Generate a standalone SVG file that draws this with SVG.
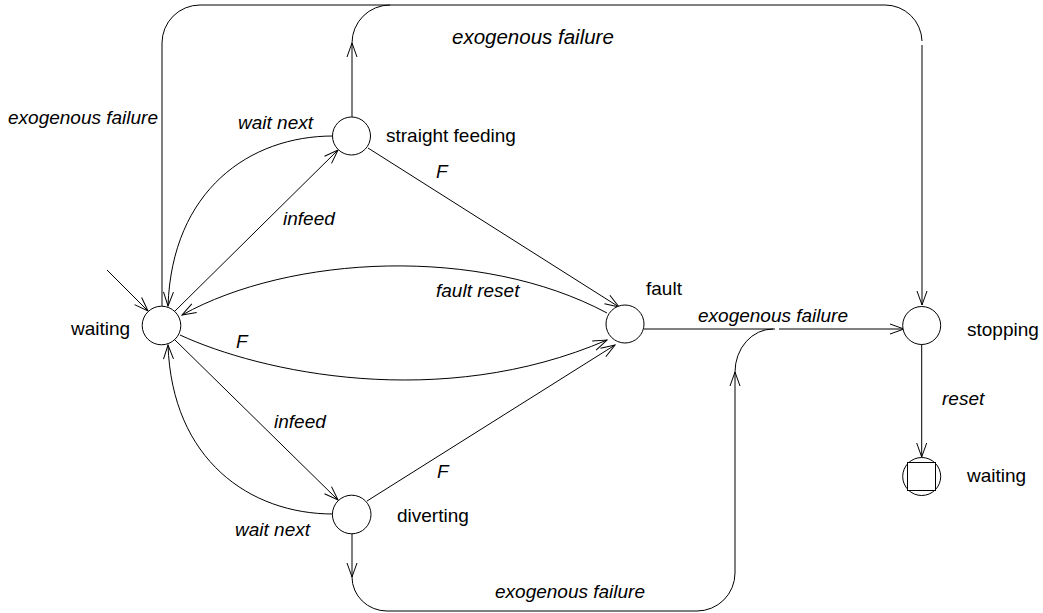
<svg xmlns="http://www.w3.org/2000/svg" width="1043" height="613" viewBox="0 0 1043 613">
<defs>
<style>
.n{fill:#fff;stroke:#000;stroke-width:1}
.c{fill:none;stroke:#000;stroke-width:1}
.t{font-family:"Liberation Sans",Arial,sans-serif;font-size:19px;fill:#000}
.i{font-style:italic}
</style>
<marker id="a" markerUnits="userSpaceOnUse" markerWidth="16" markerHeight="12" viewBox="0 0 16 12" refX="15" refY="6" orient="auto">
<path d="M1,1 L15,6 L1,11" fill="none" stroke="#000" stroke-width="1"/>
</marker>
</defs>
<rect width="1043" height="613" fill="#fff"/>
<g id="connectors">
<path class="c" d="M107,270 L148,311" marker-end="url(#a)"/>
<path class="c" d="M174,312 L338,150" marker-end="url(#a)"/>
<path class="c" d="M333,136 C250,136 172,190 168,306" marker-end="url(#a)"/>
<path class="c" d="M174,339 L338,500" marker-end="url(#a)"/>
<path class="c" d="M333,514 C250,514 172,460 168,345" marker-end="url(#a)"/>
<path class="c" d="M368,148 L619,307" marker-end="url(#a)"/>
<path class="c" d="M367,501 L615,345" marker-end="url(#a)"/>
<path class="c" d="M180,335 C260,372 440,412 607,340" marker-end="url(#a)"/>
<path class="c" d="M607,313 C480,245 290,255 182,315" marker-end="url(#a)"/>
<path class="c" d="M644,329 H775"/>
<path class="c" d="M779,329 H904" marker-end="url(#a)"/>
<path class="c" d="M921.7,344 V457" marker-end="url(#a)"/>
<path class="c" d="M162,306 V43 A38,38 0 0 1 200,5 H885 A37,37 0 0 1 922,41"/>
<path class="c" d="M922,45 V305" marker-end="url(#a)"/>
<path class="c" d="M352,117 V43" marker-end="url(#a)"/>
<path class="c" d="M352,43 A38,38 0 0 1 390,5"/>
<path class="c" d="M352,533 V577" marker-end="url(#a)"/>
<path class="c" d="M352,577 A35,34 0 0 0 387,611 H697 A38,38 0 0 0 735,573 V372" marker-end="url(#a)"/>
<path class="c" d="M735,372 A38,43 0 0 1 773,329"/>
</g>
<g id="waiting">
<circle class="n" cx="161.5" cy="325.5" r="19.3"/>
<text class="t" x="71" y="335">waiting</text>
</g>
<g id="straight_feeding">
<circle class="n" cx="351.5" cy="136" r="19"/>
<text class="t" x="386" y="142">straight feeding</text>
</g>
<g id="fault">
<circle class="n" cx="625" cy="324" r="19"/>
<text class="t" x="646" y="295">fault</text>
</g>
<g id="diverting">
<circle class="n" cx="351.7" cy="514.5" r="19.3"/>
<text class="t" x="397" y="522">diverting</text>
</g>
<g id="stopping">
<circle class="n" cx="921.7" cy="325.5" r="19"/>
<text class="t" x="967" y="336">stopping</text>
</g>
<g id="waiting_final">
<circle class="n" cx="921.7" cy="476.5" r="19"/>
<rect class="n" x="907.5" y="462.5" width="28" height="28"/>
<text class="t" x="967" y="482">waiting</text>
</g>
<g id="labels">
<text class="t i" x="8" y="124">exogenous failure</text>
<text class="t i" x="452" y="44" style="font-size:20.5px">exogenous failure</text>
<text class="t i" x="238" y="129">wait next</text>
<text class="t i" x="436" y="178">F</text>
<text class="t i" x="283" y="225">infeed</text>
<text class="t i" x="436" y="297">fault reset</text>
<text class="t i" x="236" y="348">F</text>
<text class="t i" x="698" y="322">exogenous failure</text>
<text class="t i" x="942" y="405">reset</text>
<text class="t i" x="274" y="428">infeed</text>
<text class="t i" x="437" y="478">F</text>
<text class="t i" x="235" y="536">wait next</text>
<text class="t i" x="495" y="598">exogenous failure</text>
</g>
</svg>
